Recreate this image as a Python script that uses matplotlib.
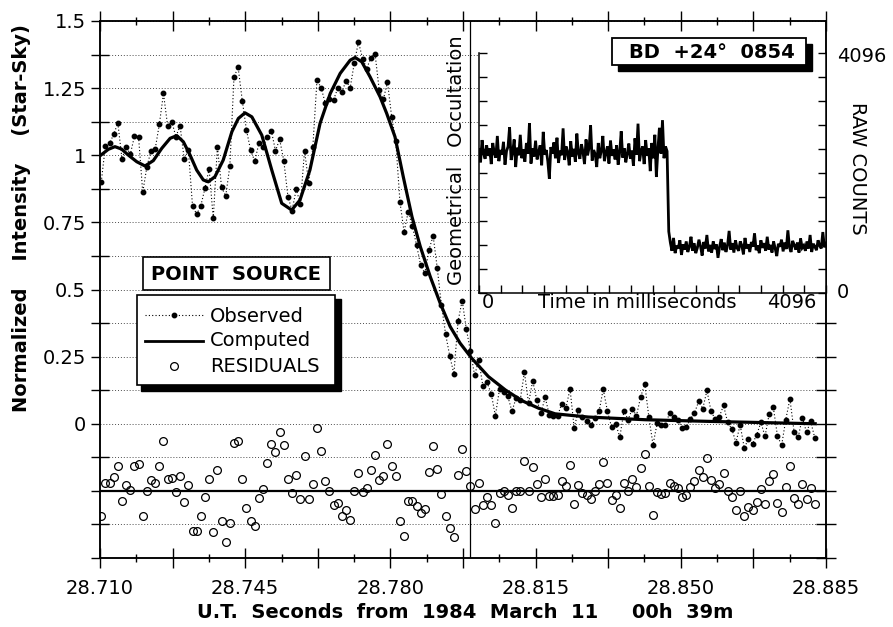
import numpy as np
import matplotlib
matplotlib.use("Agg")
import matplotlib.pyplot as plt
from matplotlib.patches import Rectangle
from matplotlib.lines import Line2D
from matplotlib.ticker import FixedLocator, FixedFormatter

plt.rcParams['font.family'] = ['DejaVu Sans']

# --- data -------------------------------------------------------------
# observed light curve, 1 ms samples starting at 28.7103 s
T_START = 28.7103
T_STEP = 0.001
obs = [
    0.900, 1.035, 1.044, 1.078, 1.120, 0.987, 1.032, 1.003, 1.071, 1.067,
    0.862, 0.957, 1.017, 1.023, 1.115, 1.230, 1.110, 1.125, 1.069, 1.110,
    0.985, 1.019, 0.812, 0.780, 0.812, 0.877, 0.949, 0.765, 1.032, 0.881,
    0.848, 0.960, 1.292, 1.327, 1.203, 1.094, 1.019, 0.978, 1.044, 1.030,
    1.069, 1.091, 1.017, 1.059, 0.980, 0.846, 0.794, 0.874, 0.817, 1.017,
    0.898, 1.030, 1.280, 1.251, 1.195, 1.210, 1.207, 1.249, 1.235, 1.278,
    1.251, 1.344, 1.422, 1.360, 1.323, 1.364, 1.378, 1.243, 1.208, 1.273,
    1.143, 1.053, 0.826, 0.715, 0.790, 0.735, 0.666, 0.590, 0.560, 0.648,
    0.700, 0.579, 0.443, 0.334, 0.253, 0.186, 0.381, 0.459, 0.353, 0.270,
    0.180, 0.238, 0.139, 0.154, 0.112, 0.030, 0.129, 0.120, 0.102, 0.046,
    0.096, 0.089, 0.192, 0.077, 0.160, 0.087, 0.040, 0.099, 0.033, 0.030,
    0.030, 0.074, 0.058, 0.130, -0.016, 0.050, 0.025, 0.009, -0.006, 0.021,
    0.046, 0.129, 0.048, -0.012, 0.000, -0.050, 0.048, 0.015, 0.056, 0.030,
    0.098, 0.149, 0.025, -0.078, 0.002, -0.004, -0.004, 0.040, 0.025, 0.015,
    -0.016, -0.012, 0.017, 0.040, 0.083, 0.056, 0.124, 0.046, 0.017, 0.027,
    0.068, 0.005, -0.020, -0.070, -0.004, -0.090, -0.057, -0.074, -0.041, 0.005,
    -0.047, 0.036, 0.061, -0.045, -0.081, 0.015, 0.093, -0.029, -0.050, 0.023,
    -0.032, 0.009, -0.053,
]

# residuals (observed - computed), drawn shifted down to RES_OFFSET
RES_OFFSET = -0.25
res = [
    -0.093, 0.029, 0.031, 0.053, 0.091, -0.038, 0.022, 0.004, 0.093, 0.099,
    -0.095, -0.002, 0.041, 0.029, 0.093, 0.185, 0.043, 0.047, -0.004, 0.056,
    -0.043, 0.021, -0.148, -0.149, -0.095, -0.024, 0.045, -0.154, 0.078, -0.112,
    -0.190, -0.120, 0.177, 0.185, 0.046, -0.062, -0.112, -0.129, -0.025, 0.007,
    0.102, 0.175, 0.143, 0.219, 0.169, 0.046, -0.009, 0.058, -0.029, 0.131,
    -0.032, 0.025, 0.236, 0.150, 0.037, 0.000, -0.052, -0.046, -0.092, -0.071,
    -0.108, -0.001, 0.068, -0.006, 0.012, 0.078, 0.134, 0.041, 0.057, 0.174,
    0.094, 0.057, -0.112, -0.167, -0.037, -0.037, -0.056, -0.083, -0.067, 0.069,
    0.167, 0.081, -0.010, -0.093, -0.139, -0.170, 0.058, 0.156, 0.073, 0.020,
    -0.066,
    0.031, -0.052, -0.021, -0.052, -0.118, -0.009, 0.000, -0.017, -0.062, 0.001,
    0.000, 0.112, 0.000, 0.089, 0.025, -0.021, 0.043, -0.019, -0.019, -0.015,
    0.035, 0.019, 0.097, -0.048, 0.022, -0.009, -0.017, -0.032, -0.002, 0.026,
    0.109, 0.031, -0.033, -0.017, -0.064, 0.031, -0.002, 0.045, 0.014, 0.084,
    0.136, 0.019, -0.089, -0.006, -0.012, -0.009, 0.031, 0.019, 0.010, -0.021,
    -0.017, 0.016, 0.035, 0.076, 0.050, 0.122, 0.041, 0.012, 0.025, 0.068,
    0.001, -0.021, -0.073, 0.000, -0.092, -0.061, -0.073, -0.043, 0.006, -0.048,
    0.037, 0.062, -0.046, -0.077, 0.016, 0.093, -0.027, -0.048, 0.026, -0.031,
    0.010, -0.050,
]

# computed point-source model, ms after 28.710 s
comp_ms = [0.0, 2.0, 3.6, 5.2, 6.8, 8.85, 10.85, 12.85, 14.9, 16.9,
           18.5, 20.1, 21.7, 23.3, 24.9, 26.1, 27.7, 29.7, 31.8, 33.35,
           34.95, 36.6, 39.0, 41.4, 43.8, 46.2, 48.2, 50.6, 53.05, 55.5,
           57.9, 60.3, 61.5, 63.1, 65.1, 67.5, 69.1, 71.1, 73.1, 75.2,
           77.2, 79.6, 82.0, 84.4, 86.8, 89.6, 93.6, 97.7, 101.7, 105.7,
           109.7, 117.7, 131.4, 146.3, 172.4]
comp_val = [0.998, 1.022, 1.032, 1.023, 1.001, 0.976, 0.960, 0.980, 1.026, 1.063,
            1.073, 1.050, 1.001, 0.945, 0.908, 0.901, 0.920, 0.982, 1.088, 1.137,
            1.158, 1.143, 1.075, 0.945, 0.821, 0.796, 0.833, 0.945, 1.119, 1.230,
            1.305, 1.354, 1.364, 1.348, 1.292, 1.218, 1.156, 1.069, 0.920, 0.771,
            0.660, 0.548, 0.449, 0.362, 0.300, 0.244, 0.176, 0.126, 0.086, 0.058,
            0.037, 0.025, 0.015, 0.009, 0.000]

T_GEOM = 28.7993  # geometrical occultation

# raw counts for the inset (before / after the step)
raw_high = [
    2450, 2230, 2610, 2380, 2290, 2520, 2340, 2470, 2200, 2560,
    2390, 2310, 2680, 2250, 2440, 2360, 2580, 2190, 2420, 2500,
    2830, 2270, 2400, 2620, 2150, 2480, 2350, 2700, 2300, 2450,
    2240, 2560, 2380, 2900, 2210, 2470, 2330, 2600, 2280, 2410,
    2520, 2180, 2750, 2360, 2440, 2250, 1950, 2490, 2380, 2570,
    2300, 2650, 2220, 2430, 2350, 2810, 2270, 2500, 2400, 2180,
    2590, 2330, 2460, 2240, 2720, 2380, 2290, 2540, 2410, 2200,
    2620, 2350, 2480, 2860, 2260, 2440, 2370, 2150, 2560, 2300,
    2430, 2680, 2250, 2390, 2500, 2210, 2600, 2340, 2450, 2280,
    2520, 2190, 2400, 2760, 2310, 2470, 2230, 2380, 2550, 2290,
    2430, 2170, 2640, 2360, 2890, 2250, 2420, 2500, 2200, 2610,
    2340, 2470, 2080, 2560, 2300, 2700, 1980, 2450, 2820, 2380,
    2950, 2300, 2500, 2420,
]
raw_low = [
    1050, 860, 720, 940, 680, 810, 760, 900, 650, 830,
    740, 880, 700, 790, 960, 720, 850, 680, 770, 910,
    800, 640, 870, 760, 990, 710, 820, 690, 880, 750,
    830, 600, 790, 920, 730, 860, 700, 810, 1060, 740,
    850, 690, 900, 770, 720, 880, 810, 660, 940, 760,
    830, 700, 870, 790, 1020, 730, 810, 680, 900, 770,
    850, 720, 960, 740, 820, 690, 880, 760, 630, 840,
    790, 910, 710, 860, 750, 1070, 780, 700, 890, 820,
    740, 860, 690, 930, 770, 810, 720, 880, 760, 990,
    700, 840, 790, 730, 900, 810, 760, 1040, 780, 850,
]
RAW_MAX = 4096
STEP_MS = 2230

t_obs = T_START + T_STEP * np.arange(len(obs))
t_res = T_START + T_STEP * np.arange(len(res))
t_comp = 28.710 + np.array(comp_ms) / 1000.0
t_raw = np.concatenate([np.linspace(0, STEP_MS - 10, len(raw_high)),
                        np.linspace(STEP_MS + 10, RAW_MAX, len(raw_low))])
raw = np.array(raw_high + raw_low)

# --- figure -----------------------------------------------------------
W, H = 893, 627
fig = plt.figure(figsize=(W / 100, H / 100), dpi=100)


def box(x0, y0, x1, y1):
    # pixel box (top-left origin) -> figure fraction rect
    return [x0 / W, 1 - y1 / H, (x1 - x0) / W, (y1 - y0) / H]


ax = fig.add_axes(box(100, 21, 826, 558))
ax.set_xlim(28.710, 28.885)
ax.set_ylim(-0.5, 1.5)

x_major = np.round(28.710 + 0.0175 * np.arange(11), 5)
x_labels = ['%.3f' % v if i % 2 == 0 else '' for i, v in enumerate(x_major)]
ax.xaxis.set_major_locator(FixedLocator(x_major))
ax.xaxis.set_major_formatter(FixedFormatter(x_labels))
ax.xaxis.set_minor_locator(FixedLocator(x_major[:-1] + 0.00875))

y_major = [-0.5, -0.25, 0, 0.25, 0.5, 0.75, 1, 1.25, 1.5]
y_labels = ['', '', '0', '0.25', '0.5', '0.75', '1', '1.25', '1.5']
ax.yaxis.set_major_locator(FixedLocator(y_major))
ax.yaxis.set_major_formatter(FixedFormatter(y_labels))
ax.yaxis.set_minor_locator(FixedLocator([-0.375, -0.125, 0.125, 0.375, 0.625, 0.875, 1.125, 1.375]))

ax.tick_params(axis='x', which='major', direction='inout', length=14, width=1,
               top=True, bottom=True, labelsize=14, pad=8)
ax.tick_params(axis='x', which='minor', direction='inout', length=6, width=1,
               top=True, bottom=True)
ax.tick_params(axis='y', which='major', direction='out', length=6.5, width=1,
               left=True, right=False, labelsize=14, pad=3.5)
ax.tick_params(axis='y', which='minor', direction='inout', length=13, width=1,
               left=True, right=False)
for s in ax.spines.values():
    s.set_linewidth(1.1)

ax.set_axisbelow(True)
ax.grid(axis='y', which='both', linestyle=(0, (1, 2)), linewidth=0.7, color='0.3')

axr = ax.twinx()
axr.set_ylim(-0.5, 1.5)
axr.yaxis.set_major_locator(FixedLocator([-0.5, -0.375, -0.25, -0.125, 0, 0.125, 0.25, 0.375]))
axr.tick_params(axis='y', direction='inout', length=14, width=1, labelright=False)
for s in axr.spines.values():
    s.set_linewidth(1.1)

ax.axhline(RES_OFFSET, color='k', lw=1.6, zorder=2)
ax.axvline(T_GEOM, color='k', lw=0.9, zorder=2)
ax.plot(t_obs, obs, color='k', lw=0.8, ls=(0, (1, 2)), marker='o', ms=3.2, zorder=3)
ax.plot(t_comp, comp_val, color='k', lw=2.3, solid_joinstyle='round', zorder=4)
ax.plot(t_res, np.array(res) + RES_OFFSET, ls='none', marker='o', ms=5.6,
        mfc='none', mec='k', mew=0.9, zorder=3)

ax.set_ylabel('Normalized    Intensity    (Star-Sky)', fontsize=14, fontweight='bold', va='center')
ax.yaxis.set_label_coords((22 - 100) / 726, (558 - 218) / 537)
ax.set_xlabel('U.T.  Seconds  from  1984  March  11     00h  39m', fontsize=14,
              fontweight='bold', va='center')
ax.xaxis.set_label_coords((465 - 100) / 726, (558 - 613) / 537)

# --- inset with raw counts ---------------------------------------------
axi = fig.add_axes(box(479, 53, 826, 293), zorder=5)
axi.set_xlim(0, RAW_MAX)
axi.set_ylim(0, RAW_MAX)
axi.spines['top'].set_visible(False)
for s in axi.spines.values():
    s.set_linewidth(1.1)
axi.set_xticks(np.linspace(0, RAW_MAX, 17))
axi.set_yticks(np.linspace(0, RAW_MAX, 11))
axi.tick_params(direction='in', length=6, width=1, left=True, right=True, bottom=True,
                top=False, labelleft=False, labelbottom=False)
axi.plot(t_raw, raw, color='k', lw=2.0, solid_joinstyle='miter')

# --- annotations in pixel space ------------------------------------------
ov = fig.add_axes([0, 0, 1, 1], zorder=10)
ov.set_xlim(0, W)
ov.set_ylim(H, 0)
ov.axis('off')

ov.text(456, 160, 'Geometrical   Occultation', rotation=90, ha='center', va='center', fontsize=14)
ov.text(488, 303, '0', ha='center', va='center', fontsize=14)
ov.text(637, 303, 'Time in milliseconds', ha='center', va='center', fontsize=14)
ov.text(792, 303, '4096', ha='center', va='center', fontsize=14)
ov.text(837, 57, '4096', ha='left', va='center', fontsize=14)
ov.text(837, 293, '0', ha='left', va='center', fontsize=14)
ov.text(858, 168, 'RAW COUNTS', rotation=-90, ha='center', va='center', fontsize=14)

# star name box with shadow
ov.add_patch(Rectangle((618, 44), 194, 27, facecolor='k', edgecolor='k'))
ov.add_patch(Rectangle((612, 38), 194, 27, facecolor='white', edgecolor='k', lw=1.3))
ov.text(712, 53, 'BD  +24°  0854', ha='center', va='center', fontsize=14, fontweight='bold')

# model label
ov.add_patch(Rectangle((143, 257), 187, 33, facecolor='white', edgecolor='k', lw=1.2))
ov.text(236, 274, 'POINT  SOURCE', ha='center', va='center', fontsize=14, fontweight='bold')

# legend box with shadow
ov.add_patch(Rectangle((141, 299), 200, 92, facecolor='k', edgecolor='k'))
ov.add_patch(Rectangle((137, 295), 198, 90, facecolor='white', edgecolor='k', lw=1.2))
ov.add_line(Line2D([145, 203], [315, 315], color='k', lw=0.8, ls=(0, (1, 2))))
ov.add_line(Line2D([174], [315], color='k', marker='o', ms=3.2, ls='none'))
ov.add_line(Line2D([145, 203], [341, 341], color='k', lw=2.0))
ov.add_line(Line2D([174], [366], marker='o', ms=5.6, mfc='none', mec='k', mew=0.9, ls='none'))
ov.text(210, 316, 'Observed', ha='left', va='center', fontsize=14)
ov.text(210, 341, 'Computed', ha='left', va='center', fontsize=14)
ov.text(210, 366, 'RESIDUALS', ha='left', va='center', fontsize=14)

fig.savefig('out.png', dpi=100)
